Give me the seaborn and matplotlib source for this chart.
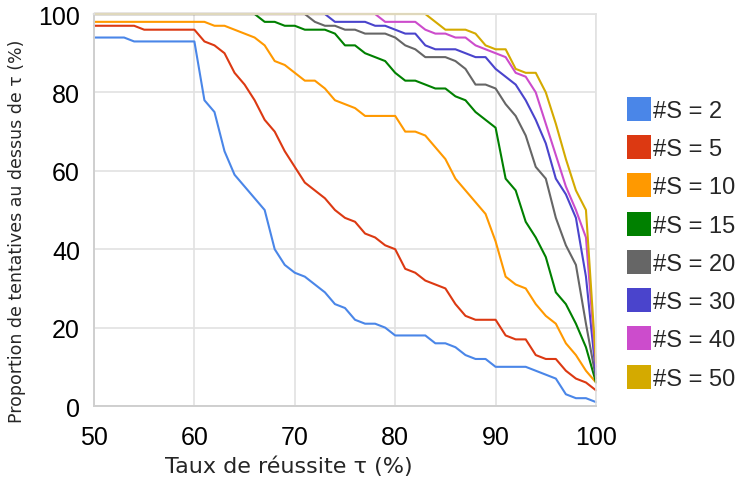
import pandas as pd
import matplotlib
matplotlib.use("Agg")
import matplotlib.pyplot as plt
from matplotlib.patches import Patch
import seaborn as sns

# success rate tau (%) on the x axis
tau = list(range(50, 101))

# proportion of attempts above tau (%), one list per #S
s2 = [94, 94, 94, 94, 93, 93, 93, 93, 93, 93, 93,
      78, 75, 65, 59, 56, 53, 50, 40, 36, 34,
      33, 31, 29, 26, 25, 22, 21, 21, 20, 18,
      18, 18, 18, 16, 16, 15, 13, 12, 12, 10,
      10, 10, 10, 9, 8, 7, 3, 2, 2, 1]
s5 = [97, 97, 97, 97, 97, 96, 96, 96, 96, 96, 96,
      93, 92, 90, 85, 82, 78, 73, 70, 65, 61,
      57, 55, 53, 50, 48, 47, 44, 43, 41, 40,
      35, 34, 32, 31, 30, 26, 23, 22, 22, 22,
      18, 17, 17, 13, 12, 12, 9, 7, 6, 4]
s10 = [98, 98, 98, 98, 98, 98, 98, 98, 98, 98, 98,
       98, 97, 97, 96, 95, 94, 92, 88, 87, 85,
       83, 83, 81, 78, 77, 76, 74, 74, 74, 74,
       70, 70, 69, 66, 63, 58, 55, 52, 49, 42,
       33, 31, 30, 26, 23, 21, 16, 13, 9, 6]
s15 = [100, 100, 100, 100, 100, 100, 100, 100, 100, 100, 100,
       100, 100, 100, 100, 100, 100, 98, 98, 97, 97,
       96, 96, 96, 95, 92, 92, 90, 89, 88, 85,
       83, 83, 82, 81, 81, 79, 78, 75, 73, 71,
       58, 55, 47, 43, 38, 29, 26, 21, 15, 6]
s20 = [100, 100, 100, 100, 100, 100, 100, 100, 100, 100, 100,
       100, 100, 100, 100, 100, 100, 100, 100, 100, 100,
       100, 98, 97, 97, 96, 96, 95, 95, 95, 94,
       92, 91, 89, 89, 89, 88, 86, 82, 82, 81,
       77, 74, 69, 61, 58, 48, 41, 36, 21, 7]
s30 = [100, 100, 100, 100, 100, 100, 100, 100, 100, 100, 100,
       100, 100, 100, 100, 100, 100, 100, 100, 100, 100,
       100, 100, 100, 98, 98, 98, 98, 97, 97, 96,
       95, 95, 92, 91, 91, 91, 90, 89, 89, 86,
       84, 82, 78, 73, 67, 58, 54, 48, 33, 8]
s40 = [100, 100, 100, 100, 100, 100, 100, 100, 100, 100, 100,
       100, 100, 100, 100, 100, 100, 100, 100, 100, 100,
       100, 100, 100, 100, 100, 100, 100, 100, 98, 98,
       98, 98, 96, 95, 95, 94, 94, 92, 91, 90,
       89, 85, 84, 80, 72, 64, 56, 50, 43, 10]
s50 = [100, 100, 100, 100, 100, 100, 100, 100, 100, 100, 100,
       100, 100, 100, 100, 100, 100, 100, 100, 100, 100,
       100, 100, 100, 100, 100, 100, 100, 100, 100, 100,
       100, 100, 100, 98, 96, 96, 96, 95, 92, 91,
       91, 86, 85, 85, 80, 72, 63, 55, 50, 11]

labels = ["#S = 2", "#S = 5", "#S = 10", "#S = 15",
          "#S = 20", "#S = 30", "#S = 40", "#S = 50"]
colors = ["#4a86e8", "#dc3912", "#ff9900", "#008000",
          "#666666", "#4a44cc", "#cc4ccc", "#d4aa00"]

df = pd.DataFrame({"tau": tau})
for lab, vals in zip(labels, [s2, s5, s10, s15, s20, s30, s40, s50]):
    df[lab] = vals
long = df.melt(id_vars="tau", var_name="serie", value_name="prop")

sns.set_style("white")
plt.rcParams["font.family"] = ["Liberation Sans", "DejaVu Sans"]

fig = plt.figure(figsize=(7.4, 4.81), dpi=100)
ax = fig.add_axes([0.127, 0.1538, 0.6784, 0.815])

sns.lineplot(data=long, x="tau", y="prop", hue="serie", hue_order=labels,
             palette=colors, linewidth=1.5, legend=False, ax=ax)
for line in ax.lines:
    line.set_clip_on(False)

ax.set_xlim(50, 100)
ax.set_ylim(0, 100)
ax.set_xticks([50, 60, 70, 80, 90, 100])
ax.set_yticks([0, 20, 40, 60, 80, 100])
ax.grid(True, color="#e2e2e2", linewidth=1.2)
ax.set_axisbelow(True)
for side in ["top", "right"]:
    ax.spines[side].set_color("#e2e2e2")
    ax.spines[side].set_linewidth(1.2)
for side in ["left", "bottom"]:
    ax.spines[side].set_color("#cfcfcf")
    ax.spines[side].set_linewidth(1.4)
ax.tick_params(axis="both", length=4, width=1, color="#cfcfcf",
               labelsize=18, labelcolor="black")
ax.tick_params(axis="y", pad=6)
ax.tick_params(axis="x", pad=10)
ax.set_xlabel("")
ax.set_ylabel("")

fig.text(289 / 740, 1 - 467 / 481, "Taux de réussite τ (%)", fontsize=16,
         family="DejaVu Sans", ha="center", va="center")
fig.text(17 / 740, 1 - 231 / 481, "Proportion de tentatives au dessus de τ (%)",
         fontsize=12.5, family="DejaVu Sans", rotation=90,
         ha="center", va="center")

handles = [Patch(facecolor=c, edgecolor="none", label=l)
           for c, l in zip(colors, labels)]
fig.legend(handles=handles, loc="upper left", bbox_to_anchor=(627 / 740, 1 - 98 / 481),
           frameon=False, fontsize=17, handlelength=1.02, handleheight=1.19,
           handletextpad=0.1, labelspacing=0.56, borderpad=0, borderaxespad=0)

fig.savefig("out.png", dpi=100)
